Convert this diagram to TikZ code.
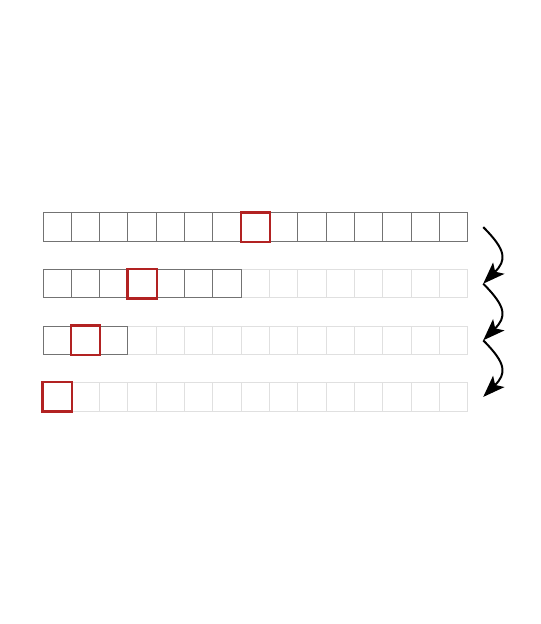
\documentclass[tikz,border=0pt]{standalone}
\usepackage{xcolor}
\usepackage{tikz}
\usetikzlibrary{positioning, arrows.meta, calc}

\definecolor{pickred}{RGB}{178,34,34}

\begin{document}
\begin{tikzpicture}[
    x=0.5cm, y=0.5cm,
    cell/.style={
        rectangle,
        draw=black!55,
        minimum size=0.5cm,
        inner sep=0pt,
        line width=0.5pt
    },
    idle/.style={cell, draw=black!12},
    pick/.style={draw=pickred, line width=1.2pt},
    jump/.style={-{Stealth[length=11pt, width=8pt, inset=2.5pt]}, line width=1pt, bend left=45, looseness=1.5}
]

\useasboundingbox (-1.52, 7.52) rectangle (17.58, -14.52);

% Rows: active cells / picked cell
\foreach \n/\p [count=\r] in {15/7, 7/3, 3/1, 1/0} {
    \foreach \i in {14,...,0} {
        \ifnum\i<\n \def\st{cell}\else\def\st{idle}\fi
        \node[\st] (r\r c\i) at (\i+0.5, -2*\r+1.5) {};
    }
    \draw[pick] (r\r c\p.south west) rectangle (r\r c\p.north east);
    \coordinate (e\r) at ($(r\r c14.east)+(0.53,0)$);
}

% Steps
\draw[jump] (e1) to (e2);
\draw[jump] (e2) to (e3);
\draw[jump] (e3) to (e4);

\end{tikzpicture}
\end{document}
